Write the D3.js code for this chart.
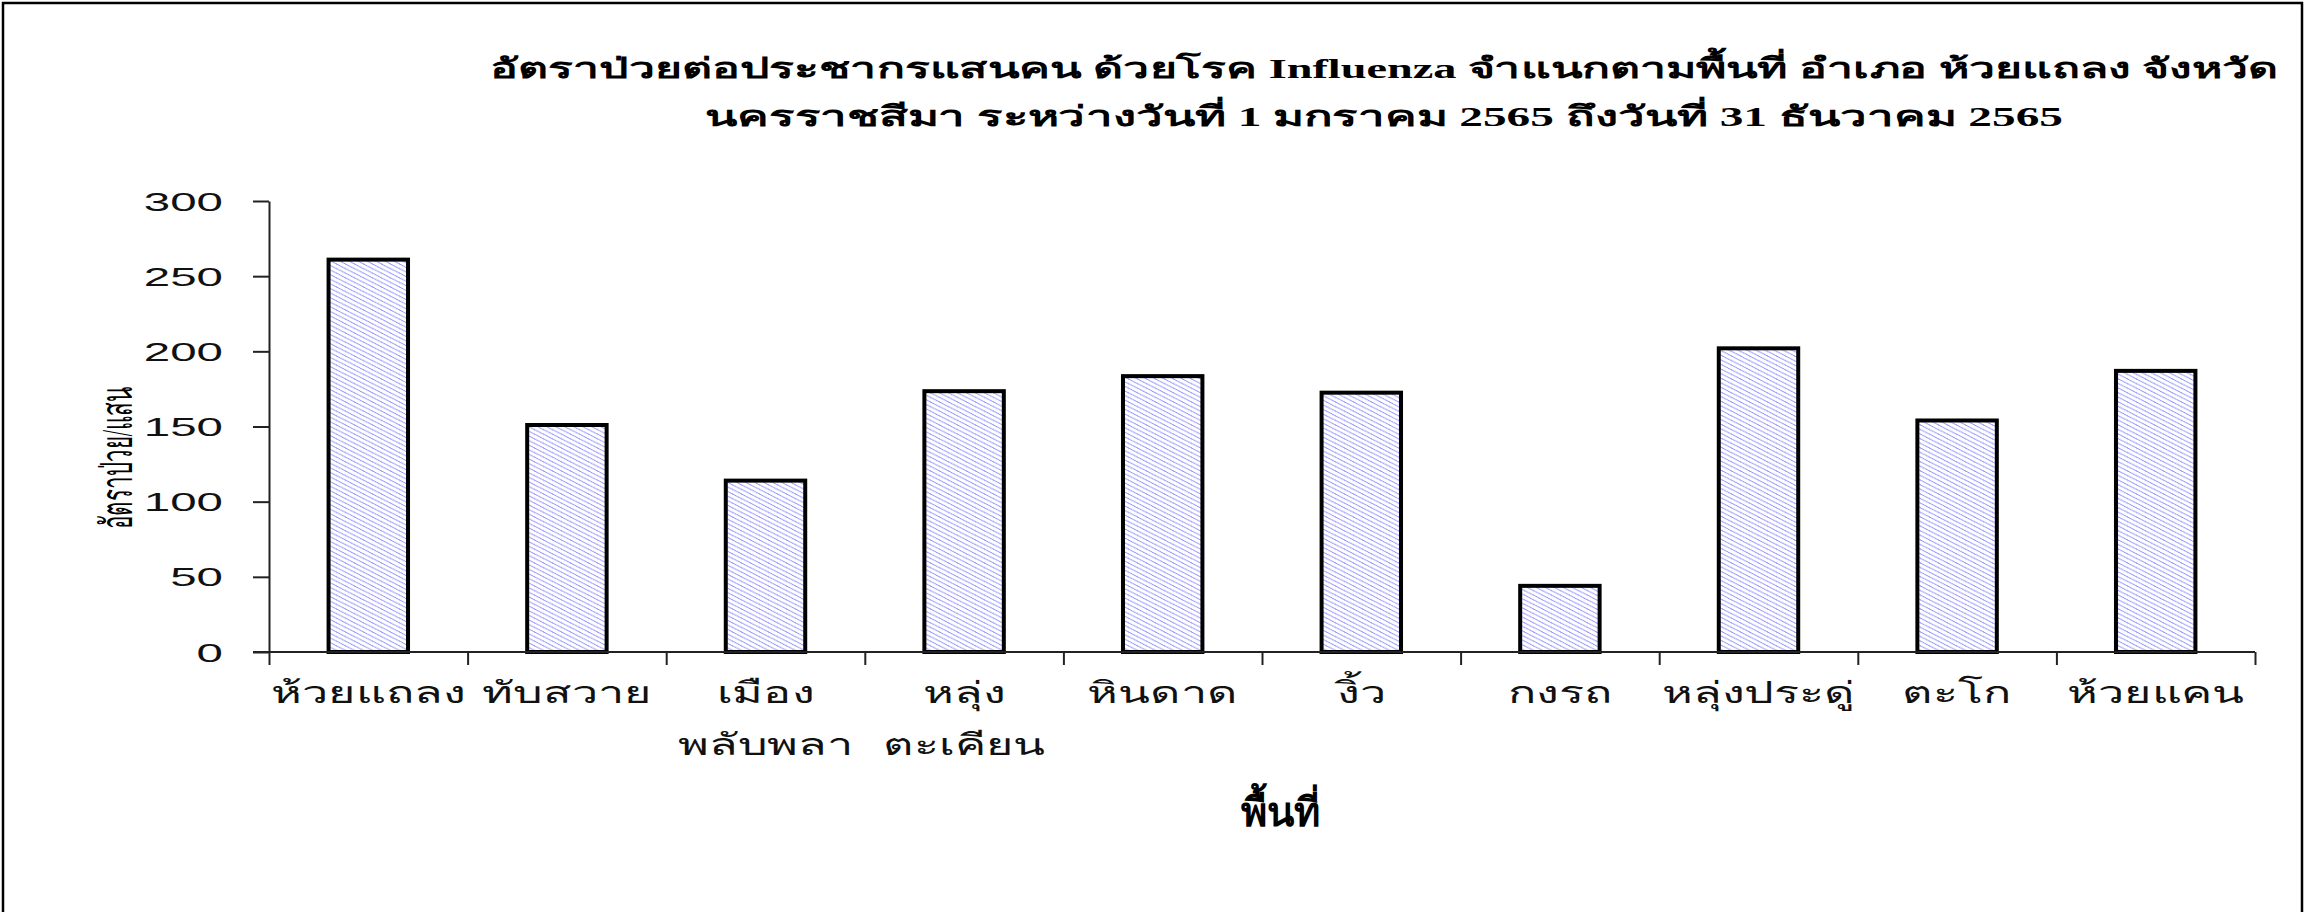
<!DOCTYPE html>
<html>
<head>
<meta charset="utf-8">
<script src="https://cdn.jsdelivr.net/npm/d3@7/dist/d3.min.js"></script>
<style>
  html, body { margin: 0; padding: 0; background: #fff; }
  svg { display: block; }
</style>
</head>
<body>
<div id="chart"></div>
<script>
// Areas (space = line break in the label)
const categories = ['ห้วยแถลง', 'ทับสวาย', 'เมือง พลับพลา', 'หลุ่ง ตะเคียน', 'หินดาด',
  'งิ้ว', 'กงรถ', 'หลุ่งประดู่', 'ตะโก', 'ห้วยแคน'];

// Morbidity rate per 100,000 population
const values = [261, 151, 114, 173.5, 183.5, 172.5, 44, 202, 154, 187];

const yTicks = [0, 50, 100, 150, 200, 250, 300];

const titleLines = [
  'อัตราป่วยต่อประชากรแสนคน ด้วยโรค Influenza จำแนกตามพื้นที่   อำเภอ  ห้วยแถลง จังหวัด',
  'นครราชสีมา  ระหว่างวันที่  1 มกราคม 2565 ถึงวันที่  31 ธันวาคม 2565'
];
const yTitle = 'อัตราป่วย/แสน';
const xTitle = 'พื้นที่';

let w = 2307,
  h = 912,
  thaiFont = '"Liberation Serif", "DejaVu Serif", serif',

  svg = d3.select('#chart').
  append('svg').
  attr('width', w).
  attr('height', h),

  x = d3.scaleBand().
  domain(categories).
  range([269, 2255]).
  paddingInner(0.6).
  paddingOuter(0.3),

  // boundaries between categories, for the tick marks
  xEdges = d3.scaleLinear().
  domain([0, categories.length]).
  range([269, 2255]),

  y = d3.scaleLinear().
  domain([0, 300]).
  range([652, 201]);

// light blue hatch for the bars
let pat = svg.append('defs').
append('pattern').
attr('id', 'hatch').
attr('patternUnits', 'userSpaceOnUse').
attr('width', 9).
attr('height', 4.6);
pat.append('rect').attr('width', 9).attr('height', 4.6).attr('fill', '#fff');
pat.append('path').
attr('d', 'M-9,0L9,9.2M0,0L18,9.2M-9,-4.6L9,4.6M0,-4.6L18,4.6').
attr('stroke', '#8f8fff').
attr('stroke-width', 0.9).
attr('stroke-dasharray', '5,1.5').
attr('fill', 'none');

// outer frame
svg.append('path').
attr('d', 'M3,' + (h + 5) + 'V3H' + (w - 5) + 'V' + (h + 5)).
attr('fill', 'none').
attr('stroke', '#000').
attr('stroke-width', 2.5);

// title
svg.append('g').
selectAll('text').
data(titleLines).
enter().
append('text').
attr('x', 1384).
attr('y', (d, i) => 78 + i * 48).
attr('text-anchor', 'middle').
attr('font-family', thaiFont).
attr('font-weight', 'bold').
attr('font-size', 28).
attr('textLength', (d, i) => i === 0 ? 1788 : 1358).
attr('lengthAdjust', 'spacingAndGlyphs').
text(d => d);

// bars
svg.append('g').
selectAll('rect').
data(values).
enter().
append('rect').
attr('x', (d, i) => x(categories[i])).
attr('y', d => y(d)).
attr('width', x.bandwidth()).
attr('height', d => y(0) - y(d)).
attr('fill', 'url(#hatch)').
attr('stroke', '#000').
attr('stroke-width', 4);

// y axis
let yAxis = svg.append('g').
attr('transform', 'translate(269,0)').
call(d3.axisLeft(y).tickValues(yTicks).tickSize(16).tickSizeOuter(0));
yAxis.select('.domain').attr('stroke', '#222').attr('stroke-width', 2);
yAxis.selectAll('line').attr('stroke', '#222').attr('stroke-width', 2);
yAxis.selectAll('text').
attr('x', 0).
attr('dy', '0.36em').
attr('transform', 'translate(-46,0) scale(1.9,1)').
attr('font-family', '"Liberation Sans", Arial, sans-serif').
attr('font-size', 25).
attr('fill', '#111');

// x axis with ticks between the categories
let xAxis = svg.append('g').
attr('transform', 'translate(0,652)').
call(d3.axisBottom(xEdges).
tickValues(d3.range(categories.length + 1)).
tickSize(13).
tickSizeOuter(0).
tickFormat(''));
xAxis.select('.domain').attr('stroke', '#222').attr('stroke-width', 2).
attr('d', 'M253,0H2255');
xAxis.selectAll('line').attr('stroke', '#222').attr('stroke-width', 2);

// category labels
svg.append('g').
selectAll('text').
data(categories).
enter().
append('text').
attr('transform', d => 'translate(' + (x(d) + x.bandwidth() / 2) + ',703) scale(1.56,1)').
attr('text-anchor', 'middle').
attr('font-family', thaiFont).
attr('font-size', 30).
attr('fill', '#111').
selectAll('tspan').
data(d => d.split(' ')).
enter().
append('tspan').
attr('x', 0).
attr('y', (d, i) => i * 52).
text(d => d);

// axis titles
svg.append('text').
attr('x', 1280).
attr('y', 826).
attr('text-anchor', 'middle').
attr('font-family', thaiFont).
attr('font-weight', 'bold').
attr('font-size', 40).
text(xTitle);

svg.append('text').
attr('transform', 'translate(132,458) rotate(-90)').
attr('text-anchor', 'middle').
attr('font-family', thaiFont).
attr('font-size', 44).
attr('textLength', 142).
attr('lengthAdjust', 'spacingAndGlyphs').
text(yTitle);
</script>
</body>
</html>
